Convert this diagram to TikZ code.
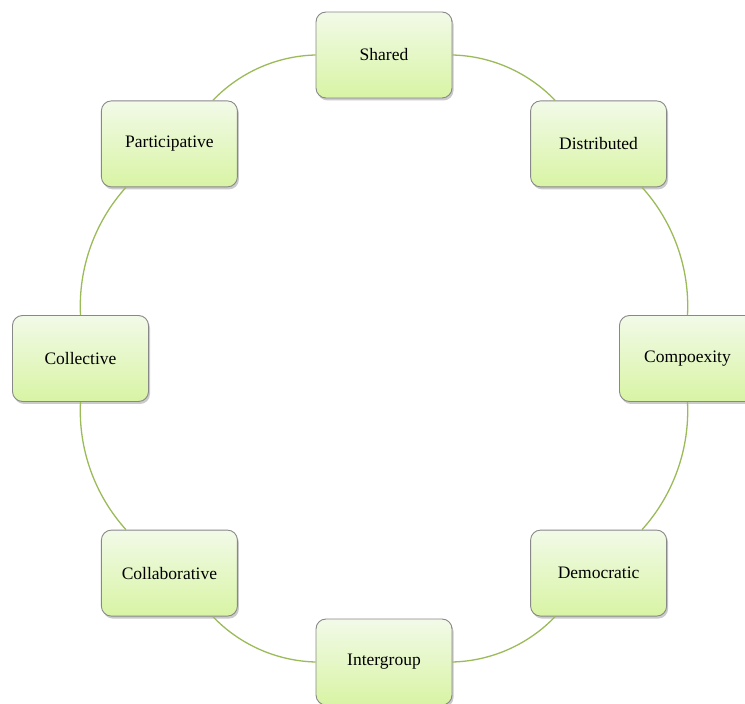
\documentclass[tikz,border=0pt]{standalone}
\usepackage{fontspec}
\setmainfont{Liberation Serif}
\usetikzlibrary{shadows}
\definecolor{ring}{HTML}{9BBB59}
\definecolor{boxtop}{HTML}{F2FAE8}
\definecolor{boxbot}{HTML}{D8F4A4}
\definecolor{boxline}{HTML}{888888}
\begin{document}
\begin{tikzpicture}[x=1pt,y=1pt,
  item/.style={draw=boxline, line width=0.9pt, rounded corners=10pt,
    top color=boxtop, bottom color=boxbot,
    minimum width=136pt, minimum height=86pt, inner sep=0pt,
    font=\fontsize{17.5}{20}\selectfont,
    drop shadow={shadow xshift=1.5pt, shadow yshift=-2.5pt, opacity=0.35, fill=black!60}},
  link/.style={draw=ring, line width=1.3pt, bend left=22.5, looseness=0.885}]
\useasboundingbox (0,0) rectangle (745,704);
\clip (0,0) rectangle (745,704);
\node[item] (n1) at (384,649) {Shared};
\node[item] (n2) at (598.6,560.1) {Distributed};
\node[item] (n3) at (687.5,345.5) {Compoexity};
\node[item] (n4) at (598.6,130.9) {Democratic};
\node[item] (n5) at (384,42) {Intergroup};
\node[item] (n6) at (169.4,130.9) {Collaborative};
\node[item] (n7) at (80.5,345.5) {Collective};
\node[item] (n8) at (169.4,560.1) {Participative};
\draw[link] (n1) to (n2);
\draw[link] (n2) to (n3);
\draw[link] (n3) to (n4);
\draw[link] (n4) to (n5);
\draw[link] (n5) to (n6);
\draw[link] (n6) to (n7);
\draw[link] (n7) to (n8);
\draw[link] (n8) to (n1);
\end{tikzpicture}
\end{document}
